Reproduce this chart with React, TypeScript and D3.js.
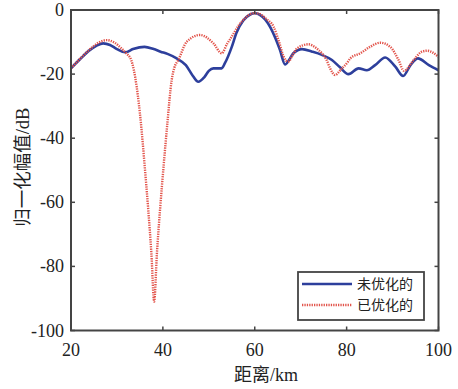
import React from "react";
import * as d3 from "d3";

// Distance axis (km) and normalized amplitude (dB) for each pattern
const blueKm = [20, 22, 24, 25.5, 27, 28.5, 30, 31.8, 33.5, 36, 38, 39.5, 41, 43, 45, 46.5, 47.7, 49, 50, 51, 52.8, 53.5, 55, 56, 57.5, 59, 60, 61, 62.3, 63.4, 64.5, 65.5, 66.6, 67.5, 68.4, 70.3, 72.5, 74.6, 76.8, 78.5, 80.4, 82.6, 84.4, 86.2, 88.4, 90.6, 92.3, 93.9, 95.5, 97.9, 100];
const blueDb = [-18.2, -15.3, -12.6, -11.2, -10.4, -10.9, -12.2, -13.2, -12.2, -11.5, -12.2, -13, -13.7, -15.1, -17.2, -20.5, -22.4, -21, -19, -18.2, -18.2, -16.6, -11.5, -7.2, -3.3, -1.4, -1, -1.4, -3, -5.4, -8.8, -12.5, -17, -15.5, -13.5, -12.2, -13, -14, -15.6, -17.8, -20, -18.2, -18.8, -17.2, -14.8, -17.7, -20.6, -17.2, -15.1, -17.2, -18.8];

const redKm = [20, 22, 24, 26, 27.8, 29.5, 31, 32, 33.1, 34.3, 35.2, 36, 36.8, 37.5, 38.1, 38.7, 39.4, 40.2, 41, 41.9, 42.5, 43.4, 45.2, 48.1, 51, 52.8, 54, 55, 56.5, 58, 59, 60, 61, 62.5, 64.1, 65.3, 66.3, 67.3, 68.2, 69.2, 71.7, 73.3, 74.6, 75.6, 76.4, 77.5, 78.8, 80.1, 80.8, 83, 85.1, 87.3, 89.5, 91.3, 92.5, 94.6, 96.4, 97.5, 100];
const redDb = [-18.2, -15.2, -12.4, -10.2, -9.4, -10.2, -12, -13.5, -15.6, -24, -35, -48, -62, -76, -91, -76, -62, -48, -35, -22, -18, -15.5, -9.9, -7.8, -10.4, -13.5, -10.5, -8.3, -4.8, -2.4, -1.3, -1, -1.2, -2.8, -5.2, -10, -14.6, -16.1, -14.2, -12, -10.7, -11.8, -13.5, -15.5, -18.2, -20.3, -18.5, -16.5, -15.1, -13.5, -11.5, -10.2, -11.5, -15.6, -19, -15.6, -13, -12.7, -14.6];

const xTicks = [20, 40, 60, 80, 100];
const yTicks = [0, -20, -40, -60, -80, -100];
const seriesNames = ["未优化的", "已优化的"];

const W = 458;
const H = 389;
const plot = { left: 71, right: 438.5, top: 10, bottom: 330.5 };

const BLUE = "#2d3f9c";
const RED = "#e2544b";
const FRAME = "#444";
const SERIF = "'Liberation Serif', 'Times New Roman', 'Noto Sans CJK SC', serif";
const CJK = "'Liberation Serif', 'Noto Sans CJK SC', serif";

export default function App() {
  const x = d3.scaleLinear().domain([20, 100]).range([plot.left, plot.right]);
  const y = d3.scaleLinear().domain([-100, 0]).range([plot.bottom, plot.top]);

  const line = d3
    .line<[number, number]>()
    .x((d) => x(d[0]))
    .y((d) => y(d[1]))
    .curve(d3.curveMonotoneX);

  const bluePath = line(blueKm.map((k, i) => [k, blueDb[i]]) as [number, number][]) || "";
  const redPath = line(redKm.map((k, i) => [k, redDb[i]]) as [number, number][]) || "";

  const tickLen = 4;
  const lg = { x: 298, y: 272, w: 126, h: 48 };
  const rows = [284, 305];

  return (
    <svg
      width={W}
      height={H}
      style={{ position: "absolute", left: 0, top: 0, background: "#fff" }}
    >
      <defs>
        <clipPath id="plotClip">
          <rect x={plot.left} y={plot.top - 2} width={plot.right - plot.left} height={plot.bottom - plot.top + 2} />
        </clipPath>
      </defs>

      {/* curves */}
      <g clipPath="url(#plotClip)">
        <path d={bluePath} fill="none" stroke={BLUE} strokeWidth={2.6} strokeLinejoin="round" />
        <path d={redPath} fill="none" stroke={RED} strokeWidth={2.4} strokeDasharray="1.3 1.1" />
      </g>

      {/* ticks inside the frame */}
      {xTicks.map((t) => (
        <g key={"xt" + t}>
          <line x1={x(t)} x2={x(t)} y1={plot.bottom} y2={plot.bottom - tickLen} stroke={FRAME} strokeWidth={1.5} />
          <line x1={x(t)} x2={x(t)} y1={plot.top} y2={plot.top + tickLen} stroke={FRAME} strokeWidth={1.5} />
          <text x={x(t)} y={plot.bottom + 25} textAnchor="middle" fontFamily={SERIF} fontSize={18} fill="#222">
            {t}
          </text>
        </g>
      ))}
      {yTicks.map((t) => (
        <g key={"yt" + t}>
          <line x1={plot.left} x2={plot.left + tickLen} y1={y(t)} y2={y(t)} stroke={FRAME} strokeWidth={1.5} />
          <line x1={plot.right} x2={plot.right - tickLen} y1={y(t)} y2={y(t)} stroke={FRAME} strokeWidth={1.5} />
          <text x={plot.left - 7} y={y(t) + 6} textAnchor="end" fontFamily={SERIF} fontSize={18} fill="#222">
            {t}
          </text>
        </g>
      ))}

      {/* frame */}
      <rect
        x={plot.left}
        y={plot.top}
        width={plot.right - plot.left}
        height={plot.bottom - plot.top}
        fill="none"
        stroke={FRAME}
        strokeWidth={2}
      />

      {/* axis titles */}
      <text x={266} y={381} textAnchor="middle" fontFamily={CJK} fontSize={18} fill="#222">
        距离/km
      </text>
      <text
        transform={`translate(29, ${(plot.top + plot.bottom) / 2 - 3}) rotate(-90)`}
        textAnchor="middle"
        fontFamily={CJK}
        fontSize={18.5}
        fill="#222"
      >
        归一化幅值/dB
      </text>

      {/* legend */}
      <rect x={lg.x} y={lg.y} width={lg.w} height={lg.h} fill="#fff" stroke={FRAME} strokeWidth={1.8} />
      <line x1={302} x2={352} y1={rows[0]} y2={rows[0]} stroke={BLUE} strokeWidth={2.6} />
      <line x1={302} x2={352} y1={rows[1]} y2={rows[1]} stroke={RED} strokeWidth={2.4} strokeDasharray="1.3 1.1" />
      <text x={357} y={rows[0] + 5} fontFamily="'Noto Sans CJK SC', sans-serif" fontSize={14} fill="#222">
        {seriesNames[0]}
      </text>
      <text x={357} y={rows[1] + 5} fontFamily="'Noto Sans CJK SC', sans-serif" fontSize={14} fill="#222">
        {seriesNames[1]}
      </text>
    </svg>
  );
}
